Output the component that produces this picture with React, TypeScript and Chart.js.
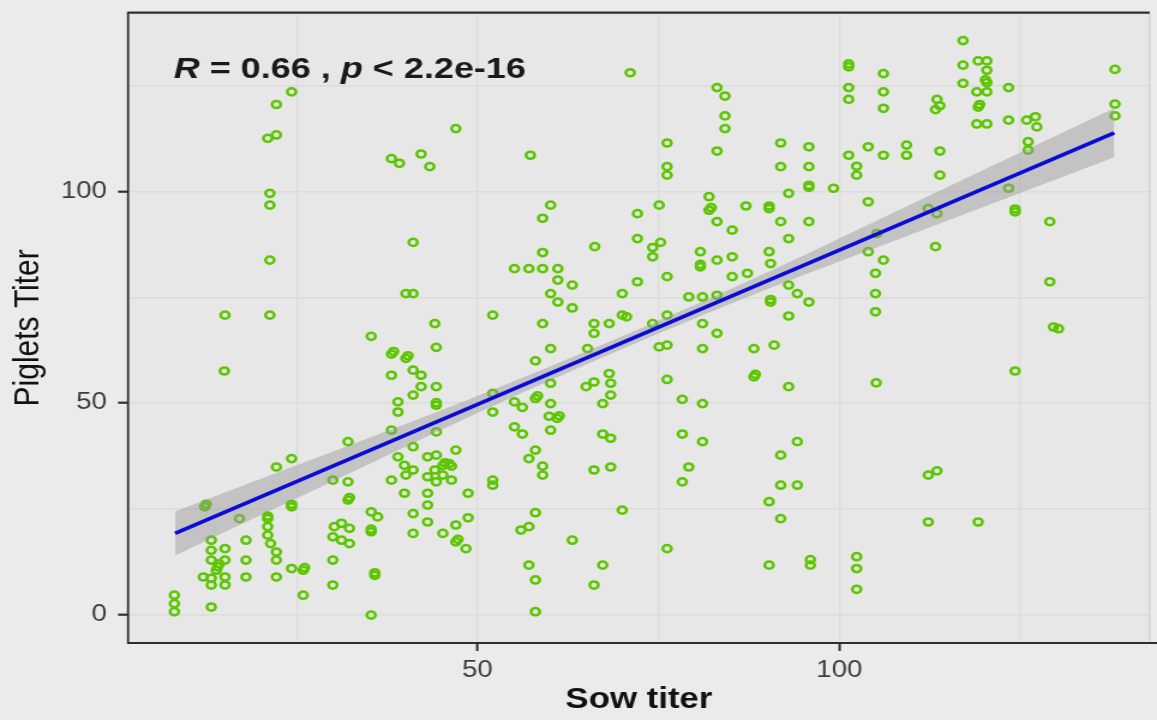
import { useEffect, useRef } from 'react';
import { Chart, registerables } from 'chart.js';

Chart.register(...registerables);

// Sow titer (x) and matching piglets titer (y) for every animal pair
const sowTiter = [
  24.3, 22.2, 22.2, 21.0, 21.3, 21.3, 21.3, 15.1, 21.3, 47.0, 38.1, 39.2, 42.2, 43.4, 41.1, 40.1, 41.1, 44.1, 35.3,
  71.1, 83.1, 84.2, 84.2, 84.2, 83.1, 57.3, 76.2, 76.2, 76.2, 91.9, 91.9, 95.8, 95.8, 95.8, 95.8, 93.0, 60.1, 59.0,
  72.1, 75.1, 82.0, 82.0, 82.3, 83.1, 85.2, 87.1, 90.3, 90.3, 91.9, 93.0, 95.8, 59.0, 66.2, 72.1, 74.2, 75.3, 74.2,
  55.1, 57.1, 59.0, 61.1, 61.1, 63.1, 60.1, 61.1, 63.1, 52.1, 59.0, 72.1, 70.0, 76.2, 80.8, 80.8, 80.8, 83.1, 85.2,
  85.2, 87.3, 90.3, 90.5, 93.0, 94.2, 95.8, 90.5, 90.5, 93.0, 70.6, 70.0, 66.1, 68.2, 74.2, 76.2, 79.2, 81.1, 83.1, 81.1,
  117.1, 117.1, 117.1, 119.2, 120.4, 120.4, 120.2, 120.4, 119.0, 120.4, 119.2, 119.4, 119.0, 120.4, 123.4, 123.4,
  125.9, 127.1, 127.3, 126.1, 126.1, 138.1, 138.1, 138.1, 101.3, 101.3, 101.3, 101.3, 106.1, 106.1, 106.1, 113.5,
  113.9, 113.3, 101.3, 102.4, 102.4, 104.0, 106.1, 109.3, 109.3, 113.9, 113.9, 99.2, 104.0, 105.2, 112.3, 113.5,
  123.4, 124.3, 124.3, 129.1, 104.0, 106.1, 105.0, 105.0, 105.0, 113.3, 129.1, 129.6, 130.3,
  15.0, 44.3, 38.1, 38.4, 40.1, 40.4, 41.1, 42.2, 38.1, 42.2, 44.3, 41.1, 39.0, 39.0, 44.3, 44.3, 38.1, 44.3, 32.1,
  22.2, 24.3, 12.3, 12.5, 17.1, 21.0, 21.0, 21.0, 21.0, 21.4, 22.2, 22.2, 24.3, 24.3, 30.0, 32.1, 32.1, 32.3, 35.3,
  36.2, 35.3, 35.3, 30.2, 31.2, 32.3, 30.0, 31.2, 32.3, 30.0, 35.8, 35.8, 30.0, 35.3, 25.9, 25.9, 26.1, 24.3, 22.2,
  18.0, 18.0, 18.0, 13.2, 13.2, 15.1, 13.2, 14.1, 14.3, 15.1, 12.1, 13.2, 15.1, 15.1, 13.9, 13.2, 13.2, 8.1, 8.1, 8.1,
  39.0, 39.9, 41.1, 38.1, 40.1, 41.1, 43.1, 44.3, 45.2, 45.5, 46.1, 46.4, 44.1, 45.2, 43.1, 44.3, 46.4, 47.0, 39.9,
  43.1, 43.1, 41.1, 43.1, 41.1, 45.2, 47.0, 47.0, 47.3, 48.4, 48.7, 48.7,
  66.1, 83.1, 60.1, 65.2, 58.0, 75.1, 76.2, 81.1, 88.2, 91.0, 88.2, 88.4, 93.0, 76.2, 78.3, 81.1, 78.3, 81.1, 79.2,
  78.3, 68.2, 68.4, 68.4, 67.3, 65.0, 66.1, 60.1, 58.0, 58.3, 52.1, 52.1, 55.1, 56.2, 60.1, 59.9, 61.0, 61.3, 60.1,
  55.1, 56.2, 58.0, 57.1, 59.0, 59.0, 67.3, 68.4, 66.1, 68.4, 52.1, 52.1, 70.0, 58.0, 57.1, 56.0, 63.1, 57.1, 58.0,
  58.0, 67.3, 66.1, 76.2, 91.9, 94.2, 91.9, 94.2, 90.3, 91.9, 90.3, 96.0, 96.0,
  124.3, 105.1, 112.3, 113.5, 112.3, 119.2, 102.4, 102.4, 102.4,
];

const pigletsTiter = [
  123.6, 120.6, 113.4, 112.6, 99.6, 96.8, 83.8, 70.8, 70.8, 114.9, 107.8, 106.7, 108.9, 105.9, 88.0, 75.9, 75.9, 68.8, 65.8,
  128.1, 124.6, 122.6, 117.9, 114.9, 109.6, 108.6, 111.5, 105.9, 103.9, 111.5, 105.9, 110.6, 105.9, 101.5, 101.0, 99.6, 96.8, 93.7,
  94.8, 96.8, 98.8, 95.6, 96.2, 92.9, 90.9, 96.6, 96.0, 96.6, 92.9, 88.9, 92.9, 85.6, 87.0, 88.9, 86.8, 88.0, 84.6,
  81.8, 81.8, 81.8, 81.8, 79.1, 77.9, 75.9, 73.9, 72.5, 70.8, 68.8, 78.7, 75.9, 79.9, 85.8, 82.2, 82.8, 83.8, 84.6,
  79.9, 80.7, 85.8, 83.0, 77.9, 75.9, 73.9, 73.9, 74.5, 70.6, 70.4, 70.8, 68.8, 68.8, 68.8, 70.8, 75.1, 75.1, 75.5, 68.8,
  135.7, 129.9, 125.6, 130.9, 130.9, 128.7, 126.4, 125.8, 123.6, 123.6, 120.0, 120.6, 116.0, 116.0, 124.6, 116.9,
  116.9, 117.7, 115.3, 111.8, 109.8, 128.9, 120.7, 117.9, 129.5, 130.2, 124.6, 121.8, 127.9, 123.6, 119.7, 121.8,
  120.3, 119.4, 108.6, 106.0, 103.9, 110.6, 108.6, 111.0, 108.6, 109.6, 103.9, 100.8, 97.6, 90.1, 96.0, 94.8,
  100.8, 95.2, 95.9, 92.9, 85.8, 83.8, 80.7, 75.9, 71.6, 87.0, 78.7, 68.0, 67.6,
  57.6, 63.2, 61.6, 62.2, 60.6, 61.2, 57.8, 56.6, 56.6, 53.9, 53.9, 51.9, 50.3, 47.9, 49.5, 50.1, 43.6, 43.2, 40.9,
  34.9, 36.9, 25.5, 26.1, 22.7, 22.7, 23.3, 20.8, 18.8, 16.8, 14.8, 12.9, 25.5, 26.1, 31.8, 31.4, 27.1, 27.7, 24.3,
  23.1, 19.6, 20.2, 20.8, 21.6, 20.4, 18.4, 17.6, 16.8, 12.9, 9.3, 9.9, 7.0, -0.1, 4.6, 10.5, 11.1, 10.9, 8.9,
  17.6, 12.9, 8.9, 17.6, 15.2, 15.6, 12.9, 11.3, 12.0, 12.9, 8.9, 8.6, 8.9, 7.0, 10.5, 7.0, 1.8, 4.6, 2.6, 0.7,
  37.3, 35.3, 34.2, 31.8, 33.0, 39.7, 37.3, 37.7, 35.3, 35.9, 35.7, 35.1, 34.2, 33.0, 32.6, 31.4, 31.8, 38.9, 28.7,
  28.7, 25.9, 23.9, 21.9, 19.2, 19.2, 21.2, 17.2, 17.8, 15.6, 28.7, 22.9,
  66.5, 66.5, 62.9, 62.9, 60.0, 63.3, 63.7, 62.9, 62.9, 63.7, 56.2, 56.8, 53.9, 55.6, 50.9, 49.9, 42.7, 40.9, 34.9,
  31.4, 57.0, 54.7, 51.9, 49.9, 53.9, 55.0, 54.7, 51.1, 51.7, 52.3, 47.9, 50.3, 49.0, 49.9, 46.9, 46.4, 47.0, 43.6,
  44.4, 42.7, 38.9, 36.9, 35.1, 33.0, 42.7, 41.7, 34.2, 34.9, 30.6, 31.8, 24.7, 24.1, 20.8, 20.0, 17.6, 11.7, 8.2,
  0.7, 11.7, 7.0, 15.6, 37.7, 40.9, 30.6, 30.6, 26.7, 22.7, 11.7, 11.7, 13.0,
  57.6, 54.8, 33.0, 34.0, 21.9, 21.9, 13.7, 10.9, 6.0,
];

// Linear fit (ends of the line) and its 95% confidence band
const fitX = [8.2, 138.0];
const fitY = [19.2, 113.9];
const bandX = [8.2, 25, 50, 70, 90, 110, 138.0];
const bandLow = [14.0, 27.5, 47.7, 62.8, 76.9, 89.9, 108.1];
const bandHigh = [24.4, 35.3, 51.7, 65.8, 80.9, 97.1, 119.7];

// Axis ticks: grid every 25, labels every 50
const xTicks = [25, 50, 75, 100, 125];
const yTicks = [0, 25, 50, 75, 100, 125];
const labelStep = 50;

const statR = '0.66';
const statP = '2.2e-16';

const CANVAS_W = 964;
const CANVAS_H = 720;
const STRETCH = 1157 / CANVAS_W;
const FONT = '"Liberation Sans", Arial, Helvetica, sans-serif';

const panelBg = {
  id: 'panelBg',
  beforeDraw(chart: any) {
    const { ctx, chartArea: a } = chart;
    ctx.save();
    ctx.fillStyle = '#ebebeb';
    ctx.fillRect(0, 0, chart.width, chart.height);
    ctx.fillStyle = '#e7e7e7';
    ctx.fillRect(a.left, a.top, a.right - a.left, a.bottom - a.top);
    ctx.restore();
  },
};

const panelFrame = {
  id: 'panelFrame',
  afterDraw(chart: any) {
    const { ctx, chartArea: a } = chart;
    ctx.save();
    ctx.strokeStyle = '#cfcfcf';
    ctx.lineWidth = 1.2;
    ctx.beginPath();
    ctx.moveTo(a.right, a.top);
    ctx.lineTo(a.right, a.bottom);
    ctx.stroke();
    ctx.strokeStyle = '#2e2e2e';
    ctx.lineWidth = 2.2;
    ctx.beginPath();
    ctx.moveTo(a.left, a.top);
    ctx.lineTo(a.right, a.top);
    ctx.moveTo(a.left, a.bottom);
    ctx.lineTo(chart.width, a.bottom);
    ctx.stroke();
    ctx.lineWidth = 1.8;
    ctx.beginPath();
    ctx.moveTo(a.left, a.top - 1);
    ctx.lineTo(a.left, a.bottom + 1);
    ctx.stroke();
    ctx.restore();
  },
};

const corLabel = {
  id: 'corLabel',
  afterDraw(chart: any) {
    const { ctx, chartArea: a } = chart;
    const parts = [
      { t: 'R', i: true },
      { t: ' = ' + statR + ' , ', i: false },
      { t: 'p', i: true },
      { t: ' < ' + statP, i: false },
    ];
    ctx.save();
    ctx.fillStyle = '#1a1a1a';
    ctx.textBaseline = 'alphabetic';
    ctx.textAlign = 'left';
    let x = a.left + 38;
    const y = a.top + 65.5;
    for (const p of parts) {
      ctx.font = (p.i ? 'italic ' : '') + 'bold 30px ' + FONT;
      ctx.fillText(p.t, x, y);
      x += ctx.measureText(p.t).width;
    }
    ctx.restore();
  },
};

export default function App() {
  const canvasRef = useRef<HTMLCanvasElement | null>(null);

  useEffect(() => {
    const canvas = canvasRef.current;
    if (!canvas) return;

    const points = sowTiter.map((x, i) => ({ x, y: pigletsTiter[i] }));
    const zip = (xs: number[], ys: number[]) => xs.map((x, i) => ({ x, y: ys[i] }));
    const isLabelled = (v: number) => v % labelStep === 0;

    const chart = new Chart(canvas, {
      type: 'scatter',
      data: {
        datasets: [
          {
            type: 'scatter',
            data: points,
            pointRadius: 3.6,
            pointHoverRadius: 3.6,
            pointBorderWidth: 2.5,
            borderColor: '#5cc600',
            backgroundColor: 'rgba(0,0,0,0)',
            order: 3,
          } as any,
          {
            type: 'line',
            data: zip(bandX, bandLow),
            borderWidth: 0,
            borderColor: 'rgba(0,0,0,0)',
            pointRadius: 0,
            fill: false,
            tension: 0.4,
            cubicInterpolationMode: 'monotone',
            order: 2,
          } as any,
          {
            type: 'line',
            data: zip(bandX, bandHigh),
            borderWidth: 0,
            borderColor: 'rgba(0,0,0,0)',
            backgroundColor: 'rgba(150,150,150,0.45)',
            pointRadius: 0,
            fill: '-1',
            tension: 0.4,
            cubicInterpolationMode: 'monotone',
            order: 2,
          } as any,
          {
            type: 'line',
            data: zip(fitX, fitY),
            borderColor: '#0b0bd4',
            borderWidth: 3.6,
            pointRadius: 0,
            fill: false,
            order: 1,
          } as any,
        ],
      },
      options: {
        responsive: false,
        devicePixelRatio: 1,
        animation: false,
        events: [],
        layout: { padding: { left: 0, top: 12.7, right: CANVAS_W - 958.3, bottom: 0 } },
        plugins: {
          legend: { display: false },
          tooltip: { enabled: false },
        },
        scales: {
          x: {
            type: 'linear',
            min: 1.7,
            max: 142.9,
            afterBuildTicks: (axis: any) => {
              axis.ticks = xTicks.map((value) => ({ value }));
            },
            afterFit: (scale: any) => {
              scale.height = 77;
              scale.paddingLeft = 0;
              scale.paddingRight = 0;
            },
            border: { display: false },
            grid: {
              color: '#dcdcdc',
              lineWidth: 1.2,
              drawTicks: true,
              tickLength: 8,
              tickWidth: 2,
              tickColor: (c: any) => (c.tick && isLabelled(c.tick.value) ? '#2e2e2e' : 'rgba(0,0,0,0)'),
            },
            ticks: {
              autoSkip: false,
              maxRotation: 0,
              padding: 5.5,
              color: '#3d3d3d',
              font: { size: 23, family: FONT, lineHeight: 1.2 },
              callback: (v: any) => (isLabelled(Number(v)) ? String(v) : ''),
            },
            title: {
              display: true,
              text: 'Sow titer',
              color: '#111111',
              font: { size: 29, weight: 'bold', family: FONT, lineHeight: 1.2 },
              padding: { top: 0, bottom: 2.4 },
            },
          },
          y: {
            type: 'linear',
            min: -6.7,
            max: 142.3,
            afterBuildTicks: (axis: any) => {
              axis.ticks = yTicks.map((value) => ({ value }));
            },
            afterFit: (scale: any) => {
              scale.width = 106.7;
              scale.paddingTop = 0;
              scale.paddingBottom = 0;
            },
            border: { display: false },
            grid: {
              color: '#dcdcdc',
              lineWidth: 1.4,
              drawTicks: true,
              tickLength: 8.3,
              tickWidth: 2.2,
              tickColor: (c: any) => (c.tick && isLabelled(c.tick.value) ? '#2e2e2e' : 'rgba(0,0,0,0)'),
            },
            ticks: {
              autoSkip: false,
              padding: 9.4,
              color: '#3d3d3d',
              font: { size: 23, family: FONT, lineHeight: 1.2 },
              callback: (v: any) => (isLabelled(Number(v)) ? String(v) : ''),
            },
            title: {
              display: true,
              text: 'Piglets Titer',
              color: '#111111',
              font: { size: 30, family: FONT, lineHeight: 1.2 },
              padding: { top: 6, bottom: 0 },
            },
          },
        },
      } as any,
      plugins: [panelBg, panelFrame, corLabel],
    });

    return () => chart.destroy();
  }, []);

  return (
    <div
      style={{
        position: 'fixed',
        left: 0,
        top: 0,
        width: 1157,
        height: 720,
        overflow: 'hidden',
        background: '#ebebeb',
      }}
    >
      <canvas
        ref={canvasRef}
        width={CANVAS_W}
        height={CANVAS_H}
        style={{
          display: 'block',
          width: CANVAS_W + 'px',
          height: CANVAS_H + 'px',
          transform: `scaleX(${STRETCH})`,
          transformOrigin: '0 0',
        }}
      />
    </div>
  );
}
